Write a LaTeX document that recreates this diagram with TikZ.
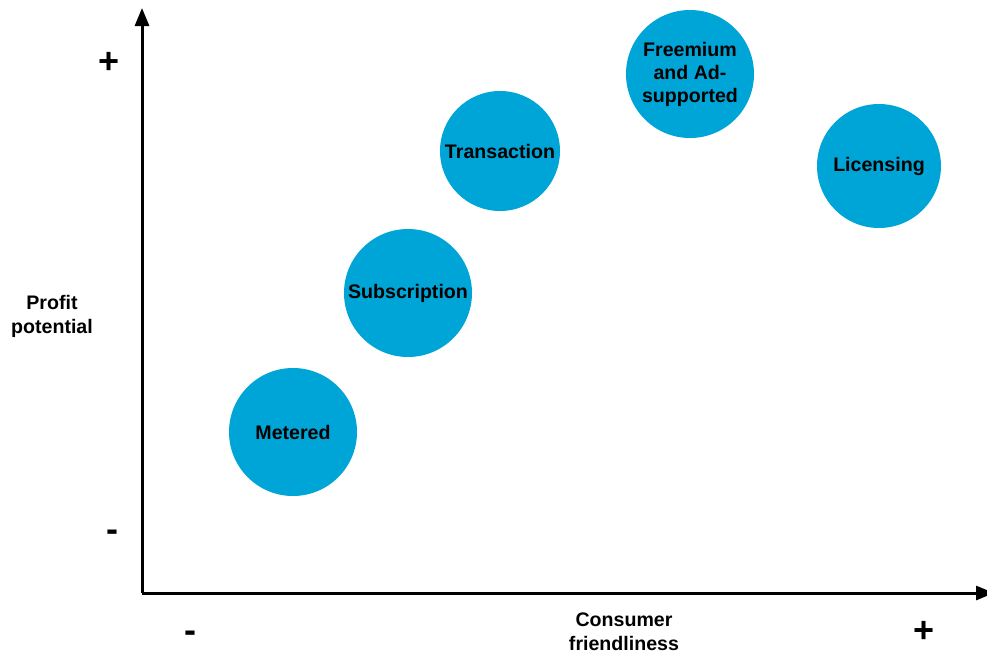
\documentclass[tikz,border=0pt]{standalone}
\usepackage{fontspec}
\setmainfont{Liberation Sans}
\usetikzlibrary{arrows.meta}
\definecolor{bubble}{RGB}{0,165,215}
\begin{document}
\begin{tikzpicture}[x=0.5pt,y=-0.5pt,
  bubble/.style={circle,fill=bubble,minimum size=64pt,inner sep=0pt,align=center,font=\bfseries\fontsize{9.8pt}{11.5pt}\selectfont},
  lbl/.style={align=center,font=\bfseries\fontsize{9.8pt}{12pt}\selectfont},
  sign/.style={inner sep=0pt,font=\bfseries\fontsize{18pt}{20pt}\selectfont},
  axis/.style={line width=1.5pt,-{Triangle[width=7pt,length=9pt]}}]
\useasboundingbox (0,0) rectangle (987,654);
\coordinate (origin) at (142,593);
\coordinate (ytop) at (142,8);
\coordinate (xend) at (994,593);
\draw[axis] (origin) -- (ytop);
\draw[axis] (origin) -- (xend);
\node[bubble] (metered) at (293,432) {Metered};
\node[bubble] (subscription) at (408,293) {Subscription};
\node[bubble,minimum size=60pt] (transaction) at (500,151) {Transaction};
\node[bubble] (freemium) at (690,74) {Freemium\\and Ad-\\supported};
\node[bubble,minimum size=62pt] (licensing) at (879,166) {Licensing};
\node[lbl] (profit) at (52,316) {Profit\\potential};
\node[lbl] (consumer) at (624,632) {Consumer\\friendliness};
\node[sign] (yplus) at (109,63) {+};
\node[sign] (yminus) at (112,536) {-};
\node[sign] (xminus) at (190,637) {-};
\node[sign] (xplus) at (924,632) {+};
\end{tikzpicture}
\end{document}
